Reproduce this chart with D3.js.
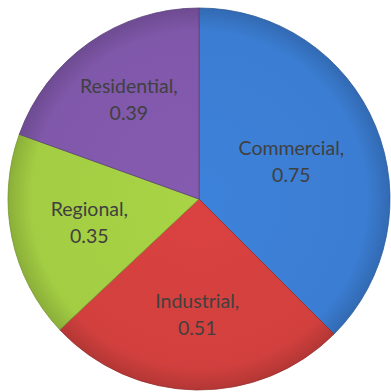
<!DOCTYPE html>
<html>
<head>
<meta charset="utf-8">
<script src="https://cdn.jsdelivr.net/npm/d3@7"></script>
<style>
  body { margin: 0; background: #fff; }
  svg { display: block; }
</style>
</head>
<body>
<svg></svg>
<script>
// Chart data.
var categories = ['Commercial', 'Industrial', 'Regional', 'Residential'];
var values = [0.75, 0.51, 0.35, 0.39];
var colors = ['#3b7dd2', '#d2403e', '#a3cd43', '#8058aa'];

// Layout.
var width = 391;
var height = 392;
var cx = 199;
var cy = 199;
var radius = 191;
// Distance of each data label from the centre (Excel "best fit" look).
var labelRadius = [100, 115, 112, 122];

var svg = d3.select('svg')
    .attr('width', width)
    .attr('height', height)
;

var data = categories.map(function(c, i) {
    return { name: c, value: values[i], color: colors[i], labelR: labelRadius[i] };
});

// Radial shading for each slice: flat in the middle, darker at the rim.
var defs = svg.append('defs');
data.forEach(function(d, i) {
    var g = defs.append('radialGradient')
        .attr('id', 'grad' + i)
        .attr('gradientUnits', 'userSpaceOnUse')
        .attr('cx', 0).attr('cy', 0).attr('r', radius)
    ;
    var c = d3.color(d.color);
    g.append('stop').attr('offset', '0%').attr('stop-color', c.brighter(0.1));
    g.append('stop').attr('offset', '88%').attr('stop-color', c);
    g.append('stop').attr('offset', '100%').attr('stop-color', c.darker(0.45));
});

var pie = d3.pie()
    .value(function(d) { return d.value; })
    .sort(null)
;

var arc = d3.arc()
    .innerRadius(0)
    .outerRadius(radius)
;

var chart = svg.append('g')
    .attr('transform', 'translate(' + cx + ',' + cy + ')')
;

var slices = chart.selectAll('.slice')
    .data(pie(data))
    .enter()
    .append('g')
    .classed('slice', true)
;

slices.append('path')
    .attr('d', arc)
    .style('fill', function(d, i) { return 'url(#grad' + i + ')'; })
    .style('stroke', function(d) { return d3.color(d.data.color).darker(0.9); })
    .style('stroke-width', 0.8)
;

var labels = slices.append('text')
    .attr('transform', function(d) {
        var r = d.data.labelR;
        var c = d3.arc().innerRadius(r).outerRadius(r).centroid(d);
        return 'translate(' + c[0] + ',' + c[1] + ')';
    })
    .attr('text-anchor', 'middle')
    .style('font-family', 'Lato, "Open Sans", sans-serif')
    .style('font-size', '19.5px')
    .style('fill', '#404040')
;

labels.append('tspan')
    .attr('x', 0)
    .attr('y', -6)
    .text(function(d) { return d.data.name + ','; })
;

labels.append('tspan')
    .attr('x', 0)
    .attr('y', 21)
    .text(function(d) { return d3.format('.2f')(d.data.value); })
;
</script>
</body>
</html>
